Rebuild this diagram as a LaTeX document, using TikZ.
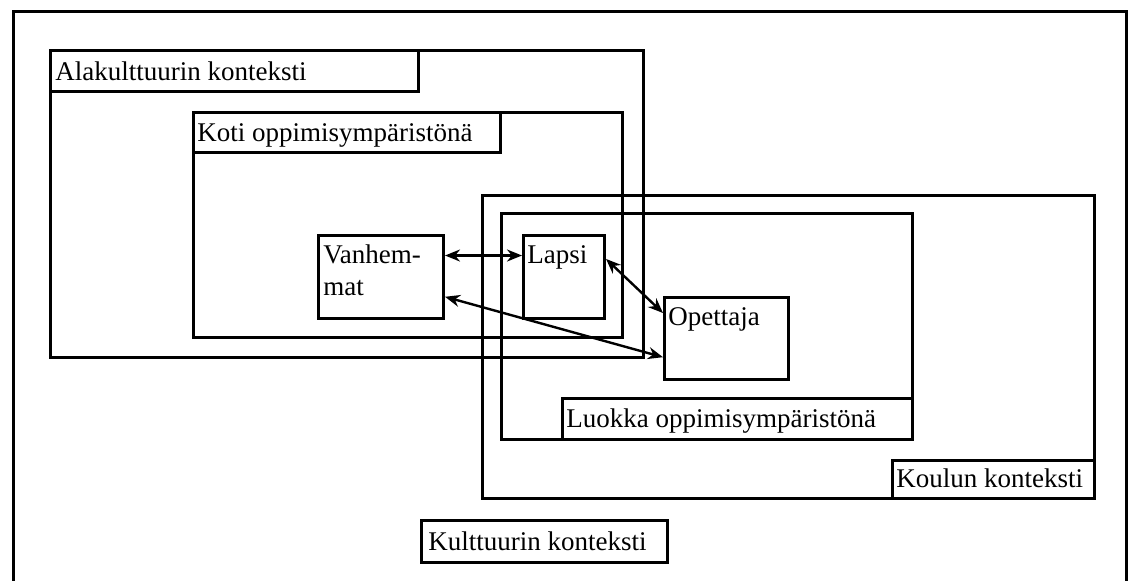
\documentclass[tikz,border=0pt]{standalone}
\usepackage{fontspec}
\setmainfont{Liberation Serif}
\usetikzlibrary{arrows.meta,calc}
\begin{document}
\begin{tikzpicture}[x=0.5pt,y=-0.5pt,
  frame/.style={draw=black, line width=1.5pt},
  cell/.style={frame, rectangle, inner sep=0pt, anchor=north west},
  txt/.style={font=\fontsize{13.5pt}{16pt}\selectfont, inner sep=0pt, anchor=base west},
  link/.style={line width=1.2pt, {Stealth[length=7.5pt,width=6pt]}-{Stealth[length=7.5pt,width=6pt]}}]
\useasboundingbox (0,0) rectangle (1128,580);
\fill[white] (0,0) rectangle (1128,580);

% culture: outer frame, runs past the lower edge
\draw[frame] (13,11) rectangle (1126,640);

% subculture context
\draw[frame] (50,50) rectangle (643,357);
\draw[frame] (50,50) rectangle (418,91);
\node[txt] (alatxt) at (55,80) {Alakulttuurin konteksti};

% home as a learning environment
\draw[frame] (193,112) rectangle (622,337);
\draw[frame] (193,112) rectangle (500,152);
\node[txt] (kotitxt) at (197,141) {Koti oppimisympäristönä};

% school context
\draw[frame] (482,195) rectangle (1094,498);
\draw[frame] (892,460) rectangle (1094,498);
\node[txt] (kouluntxt) at (896,487) {Koulun konteksti};

% classroom as a learning environment
\draw[frame] (501,213) rectangle (912,439);
\draw[frame] (562,398) rectangle (912,439);
\node[txt] (luokkatxt) at (566,427) {Luokka oppimisympäristönä};

% culture label
\draw[frame] (421,520) rectangle (667,562);
\node[txt] (kulttxt) at (428,550) {Kulttuurin konteksti};

% actors
\node[cell, minimum width=62.5pt, minimum height=41.5pt] (vanh) at (317,234) {};
\node[txt] (vanhtxt1) at (323,263) {Vanhem-};
\node[txt] (vanhtxt2) at (323,295) {mat};

\node[cell, minimum width=40.5pt, minimum height=41.5pt] (lapsi) at (522,234) {};
\node[txt] (lapsitxt) at (527,263) {Lapsi};

\node[cell, minimum width=62pt, minimum height=41pt] (opet) at (663,296) {};
\node[txt] (opettxt) at (668,325) {Opettaja};

% interactions
\draw[link] ($(vanh.north east)!0.25!(vanh.south east)$) -- ($(lapsi.north west)!0.25!(lapsi.south west)$);
\draw[link] ($(lapsi.north east)!0.29!(lapsi.south east)$) -- ($(opet.north west)!0.2!(opet.south west)$);
\draw[link] ($(vanh.north east)!0.73!(vanh.south east)$) -- ($(opet.north west)!0.72!(opet.south west)$);
\end{tikzpicture}
\end{document}
